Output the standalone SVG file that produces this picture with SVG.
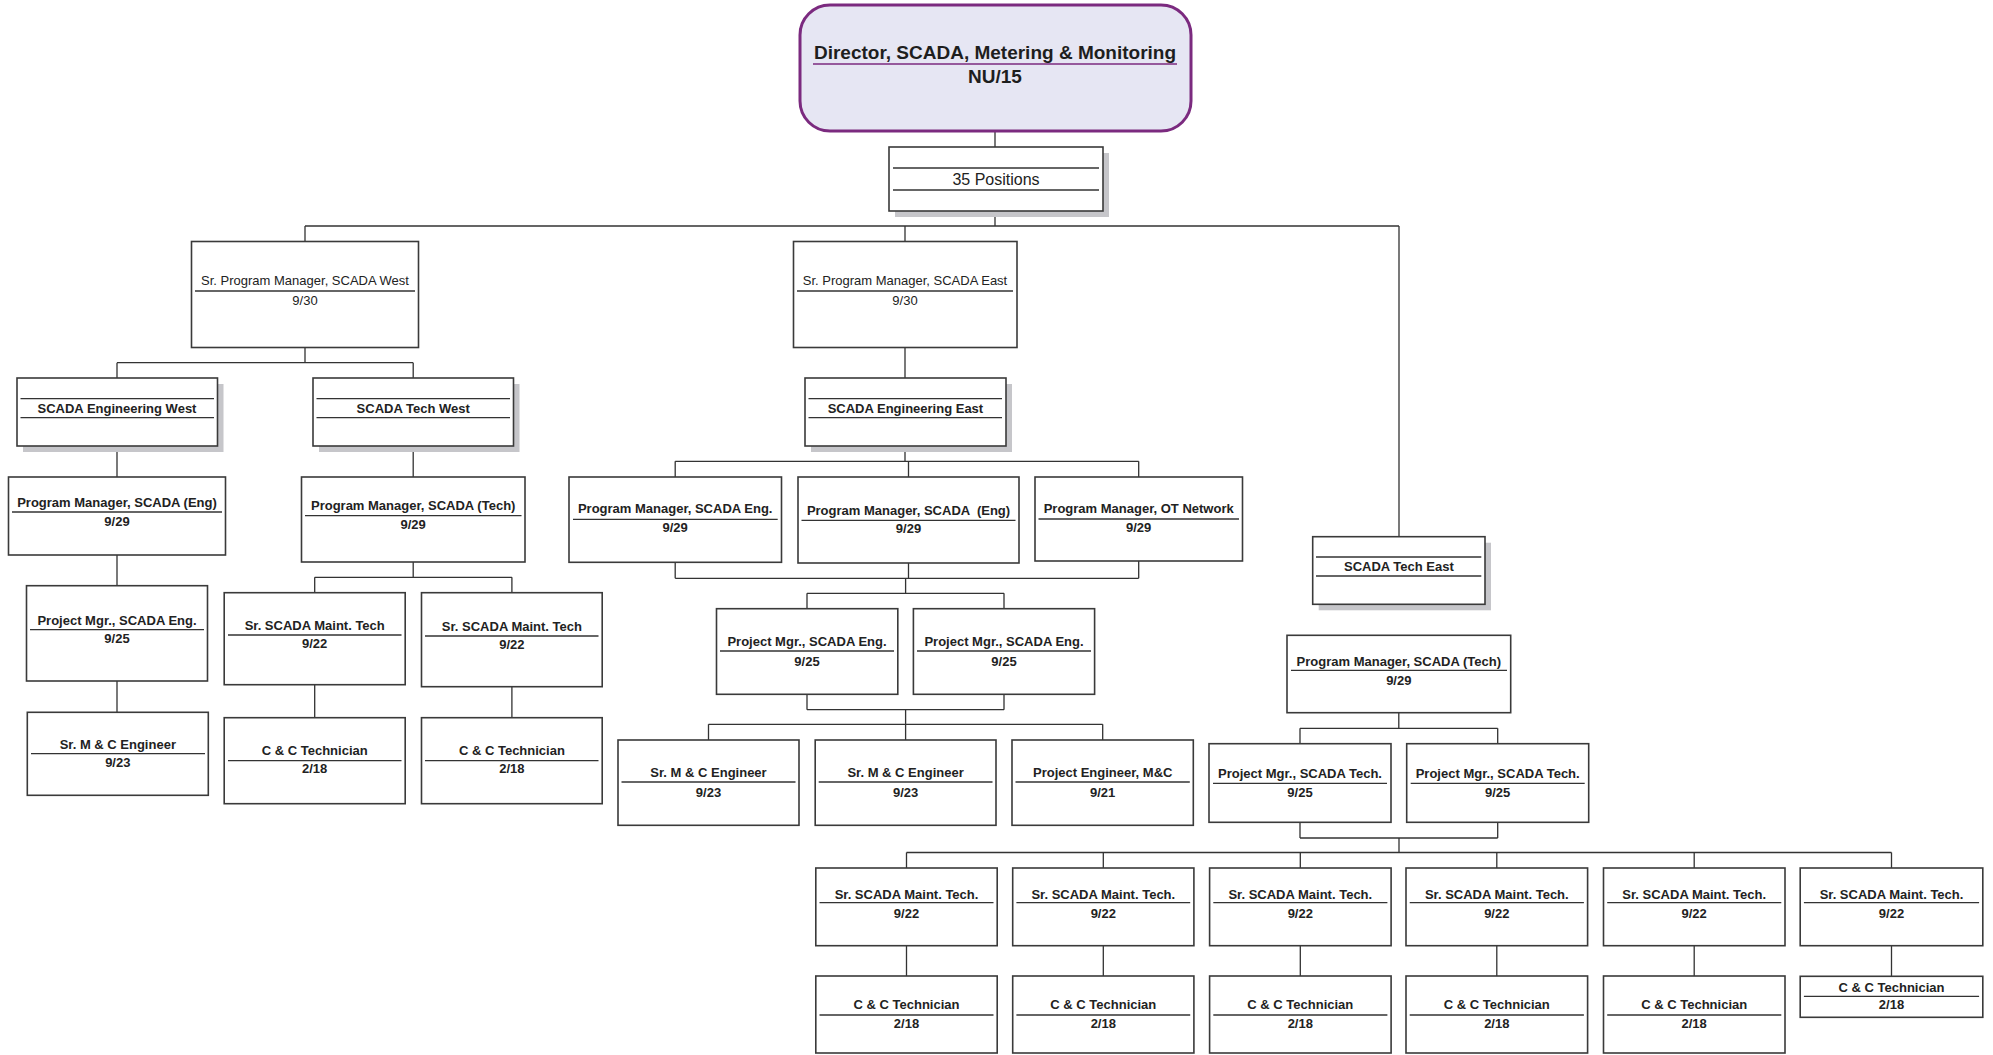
<svg xmlns="http://www.w3.org/2000/svg" width="1993" height="1055" viewBox="0 0 1993 1055">
  <style>
    .box { fill: #ffffff; stroke: #3a3a3a; stroke-width: 1.6; }
    .shadow { fill: #c6c6ca; stroke: none; }
    .rule { stroke: #333333; stroke-width: 1.3; }
    .wire { stroke: #333333; stroke-width: 1.3; fill: none; }
    .t { font-family: "Liberation Sans", Arial, sans-serif; font-size: 13px; text-anchor: middle; fill: #222222; }
    .b { font-weight: bold; }
    .big { font-size: 16px; }
    .dir { font-size: 19px; font-weight: bold; fill: #1e1e1e; }
  </style>

  <rect width="1993" height="1055" fill="#ffffff"/>

  <!-- reporting lines -->
  <g id="connectors">
    <path class="wire" d="M995,131 V147 M995,211 V226 M305,226 H1399 M305,226 V241.5 M905,226 V241.5 M1399,226 V536.7"/>
    <!-- west -->
    <path class="wire" d="M305,347.5 V362.7 M117,362.7 H413.2 M117,362.7 V378 M413.2,362.7 V378"/>
    <path class="wire" d="M117,446 V477 M413.2,446 V477 M117,555 V585.7 M117,681 V712.3"/>
    <path class="wire" d="M413.2,562 V577.3 M314.7,577.3 H511.9 M314.7,577.3 V592.7 M511.9,577.3 V592.7"/>
    <path class="wire" d="M314.7,684.7 V717.7 M511.9,686.7 V717.7"/>
    <!-- east engineering -->
    <path class="wire" d="M905,347.5 V378 M905,446 V461.3 M675.2,461.3 H1138.7 M675.2,461.3 V477 M908.5,461.3 V477 M1138.7,461.3 V477"/>
    <path class="wire" d="M675.2,562.3 V578.3 M908.5,563 V578.3 M1138.7,561 V578.3 M675.2,578.3 H1138.7 M905.6,578.3 V593.3 M807,593.3 H1004 M807,593.3 V608.7 M1004,593.3 V608.7"/>
    <path class="wire" d="M807,694.3 V709.7 M1004,694.3 V709.7 M807,709.7 H1004 M905.6,709.7 V724.3 M708.5,724.3 H1102.7 M708.5,724.3 V740 M905.6,724.3 V740 M1102.7,724.3 V740"/>
    <!-- east tech -->
    <path class="wire" d="M1398.8,712.7 V728.3 M1300,728.3 H1497.7 M1300,728.3 V743.7 M1497.7,728.3 V743.7"/>
    <path class="wire" d="M1300,822.3 V838 M1497.7,822.3 V838 M1300,838 H1497.7 M1399,838 V852.5 M906.5,852.5 H1891.5"/>
    <path class="wire" d="M906.5,852.5 V868 M1103.3,852.5 V868 M1300.3,852.5 V868 M1496.8,852.5 V868 M1694.2,852.5 V868 M1891.5,852.5 V868"/>
    <path class="wire" d="M906.5,945.7 V976 M1103.3,945.7 V976 M1300.3,945.7 V976 M1496.8,945.7 V976 M1694.2,945.7 V976 M1891.5,945.7 V976.3"/>
  </g>

  <!-- director -->
  <g id="director">
    <rect x="800" y="5" width="391" height="126" rx="30" ry="30" fill="#e6e6f3" stroke="#7b2a7f" stroke-width="3"/>
    <text class="t dir" x="995" y="59">Director, SCADA, Metering &amp; Monitoring</text>
    <line x1="813" y1="64" x2="1177" y2="64" stroke="#7b2a7f" stroke-width="1.3"/>
    <text class="t dir" x="995" y="83">NU/15</text>
  </g>

  <g id="positions">
    <rect class="shadow" x="895" y="153" width="214" height="64"/>
    <rect class="box" x="889" y="147" width="214" height="64"/>
    <line class="rule" x1="893" y1="168" x2="1099" y2="168"/>
    <line class="rule" x1="893" y1="190" x2="1099" y2="190"/>
    <text class="t big" x="996" y="185">35 Positions</text>
  </g>

  <g id="sr-pm-west">
    <rect class="box" x="191.5" y="241.5" width="227" height="106"/>
    <text class="t" x="305" y="285">Sr. Program Manager, SCADA West</text>
    <line class="rule" x1="195" y1="291" x2="415" y2="291"/>
    <text class="t" x="305" y="305">9/30</text>
  </g>

  <g id="sr-pm-east">
    <rect class="box" x="793.5" y="241.5" width="223.5" height="106"/>
    <text class="t" x="905" y="285">Sr. Program Manager, SCADA East</text>
    <line class="rule" x1="797" y1="291" x2="1013" y2="291"/>
    <text class="t" x="905" y="305">9/30</text>
  </g>

  <g id="scada-eng-west">
    <rect class="shadow" x="23" y="384" width="200.5" height="68"/>
    <rect class="box" x="17" y="378" width="200.5" height="68"/>
    <line class="rule" x1="20.5" y1="398.7" x2="214" y2="398.7"/>
    <line class="rule" x1="20.5" y1="417.7" x2="214" y2="417.7"/>
    <text class="t b" x="117" y="412.7">SCADA Engineering West</text>
  </g>

  <g id="scada-tech-west">
    <rect class="shadow" x="319" y="384" width="200.5" height="68"/>
    <rect class="box" x="313" y="378" width="200.5" height="68"/>
    <line class="rule" x1="316.5" y1="398.7" x2="510" y2="398.7"/>
    <line class="rule" x1="316.5" y1="417.7" x2="510" y2="417.7"/>
    <text class="t b" x="413.2" y="412.7">SCADA Tech West</text>
  </g>

  <g id="scada-eng-east">
    <rect class="shadow" x="811" y="384" width="201" height="68"/>
    <rect class="box" x="805" y="378" width="201" height="68"/>
    <line class="rule" x1="808.5" y1="398.7" x2="1002" y2="398.7"/>
    <line class="rule" x1="808.5" y1="417.7" x2="1002" y2="417.7"/>
    <text class="t b" x="905.4" y="412.7">SCADA Engineering East</text>
  </g>

  <g id="pm-scada-eng-west">
    <rect class="box" x="8.5" y="477" width="217" height="78"/>
    <text class="t b" x="117" y="506.7">Program Manager, SCADA (Eng)</text>
    <line class="rule" x1="12" y1="512" x2="222" y2="512"/>
    <text class="t b" x="117" y="526">9/29</text>
  </g>

  <g id="pm-scada-tech-west">
    <rect class="box" x="301.5" y="477" width="223.5" height="85"/>
    <text class="t b" x="413.2" y="510">Program Manager, SCADA (Tech)</text>
    <line class="rule" x1="305" y1="515.7" x2="521.5" y2="515.7"/>
    <text class="t b" x="413.2" y="529">9/29</text>
  </g>

  <g id="pm-scada-eng-east-1">
    <rect class="box" x="569" y="477" width="212.5" height="85.3"/>
    <text class="t b" x="675.2" y="513.3">Program Manager, SCADA Eng.</text>
    <line class="rule" x1="573" y1="519.3" x2="777.7" y2="519.3"/>
    <text class="t b" x="675.2" y="532.3">9/29</text>
  </g>

  <g id="pm-scada-eng-east-2">
    <rect class="box" x="798" y="477" width="221" height="86"/>
    <text class="t b" x="908.5" y="515" xml:space="preserve">Program Manager, SCADA  (Eng)</text>
    <line class="rule" x1="801.5" y1="520.3" x2="1015.5" y2="520.3"/>
    <text class="t b" x="908.5" y="533.3">9/29</text>
  </g>

  <g id="pm-ot-network">
    <rect class="box" x="1035" y="477" width="207.5" height="84"/>
    <text class="t b" x="1138.7" y="513.3">Program Manager, OT Network</text>
    <line class="rule" x1="1038.5" y1="519" x2="1239" y2="519"/>
    <text class="t b" x="1138.7" y="532.3">9/29</text>
  </g>

  <g id="scada-tech-east">
    <rect class="shadow" x="1318.7" y="542.7" width="172.3" height="67.6"/>
    <rect class="box" x="1312.7" y="536.7" width="172.3" height="67.6"/>
    <line class="rule" x1="1316" y1="557" x2="1481.3" y2="557"/>
    <line class="rule" x1="1316" y1="576" x2="1481.3" y2="576"/>
    <text class="t b" x="1398.9" y="571">SCADA Tech East</text>
  </g>

  <g id="proj-mgr-eng-west">
    <rect class="box" x="26.5" y="585.7" width="181" height="95.3"/>
    <text class="t b" x="117" y="625.3">Project Mgr., SCADA Eng.</text>
    <line class="rule" x1="30" y1="629.7" x2="204" y2="629.7"/>
    <text class="t b" x="117" y="643.3">9/25</text>
  </g>

  <g id="sr-maint-tech-west-1">
    <rect class="box" x="224.2" y="592.7" width="181" height="92"/>
    <text class="t b" x="314.7" y="630">Sr. SCADA Maint. Tech</text>
    <line class="rule" x1="228" y1="635" x2="401.5" y2="635"/>
    <text class="t b" x="314.7" y="648.3">9/22</text>
  </g>

  <g id="sr-maint-tech-west-2">
    <rect class="box" x="421.5" y="592.7" width="180.7" height="94"/>
    <text class="t b" x="511.9" y="631">Sr. SCADA Maint. Tech</text>
    <line class="rule" x1="425" y1="636" x2="598.5" y2="636"/>
    <text class="t b" x="511.9" y="649.3">9/22</text>
  </g>

  <g id="proj-mgr-eng-east-1">
    <rect class="box" x="716.5" y="608.7" width="181.3" height="85.6"/>
    <text class="t b" x="807" y="645.7">Project Mgr., SCADA Eng.</text>
    <line class="rule" x1="720" y1="651" x2="894" y2="651"/>
    <text class="t b" x="807" y="665.7">9/25</text>
  </g>

  <g id="proj-mgr-eng-east-2">
    <rect class="box" x="913.4" y="608.7" width="181.2" height="85.6"/>
    <text class="t b" x="1004" y="645.7">Project Mgr., SCADA Eng.</text>
    <line class="rule" x1="917" y1="651" x2="1091" y2="651"/>
    <text class="t b" x="1004" y="665.7">9/25</text>
  </g>

  <g id="pm-scada-tech-east">
    <rect class="box" x="1287" y="635.3" width="223.7" height="77.4"/>
    <text class="t b" x="1398.8" y="666">Program Manager, SCADA (Tech)</text>
    <line class="rule" x1="1291" y1="670.3" x2="1507" y2="670.3"/>
    <text class="t b" x="1398.8" y="685">9/29</text>
  </g>

  <g id="mc-engineer-west">
    <rect class="box" x="27.3" y="712.3" width="181" height="83"/>
    <text class="t b" x="117.8" y="749">Sr. M &amp; C Engineer</text>
    <line class="rule" x1="31" y1="753.7" x2="205" y2="753.7"/>
    <text class="t b" x="117.8" y="766.7">9/23</text>
  </g>

  <g id="cc-tech-west-1">
    <rect class="box" x="224.2" y="717.7" width="181" height="86"/>
    <text class="t b" x="314.7" y="755">C &amp; C Technician</text>
    <line class="rule" x1="228" y1="760.7" x2="401.5" y2="760.7"/>
    <text class="t b" x="314.7" y="773.3">2/18</text>
  </g>

  <g id="cc-tech-west-2">
    <rect class="box" x="421.5" y="717.7" width="180.7" height="86"/>
    <text class="t b" x="511.9" y="755">C &amp; C Technician</text>
    <line class="rule" x1="425" y1="760.7" x2="598.5" y2="760.7"/>
    <text class="t b" x="511.9" y="773.3">2/18</text>
  </g>

  <g id="mc-engineer-east-1">
    <rect class="box" x="618" y="740" width="181" height="85.3"/>
    <text class="t b" x="708.5" y="776.7">Sr. M &amp; C Engineer</text>
    <line class="rule" x1="621.5" y1="782" x2="795.5" y2="782"/>
    <text class="t b" x="708.5" y="796.7">9/23</text>
  </g>

  <g id="mc-engineer-east-2">
    <rect class="box" x="815.2" y="740" width="180.8" height="85.3"/>
    <text class="t b" x="905.6" y="776.7">Sr. M &amp; C Engineer</text>
    <line class="rule" x1="818.7" y1="782" x2="992.5" y2="782"/>
    <text class="t b" x="905.6" y="796.7">9/23</text>
  </g>

  <g id="project-engineer-mc">
    <rect class="box" x="1012" y="740" width="181.3" height="85.3"/>
    <text class="t b" x="1102.7" y="776.7">Project Engineer, M&amp;C</text>
    <line class="rule" x1="1015.5" y1="782" x2="1189.8" y2="782"/>
    <text class="t b" x="1102.7" y="796.7">9/21</text>
  </g>

  <g id="proj-mgr-tech-1">
    <rect class="box" x="1209" y="743.7" width="182" height="78.6"/>
    <text class="t b" x="1300" y="778.3">Project Mgr., SCADA Tech.</text>
    <line class="rule" x1="1213" y1="783.3" x2="1387" y2="783.3"/>
    <text class="t b" x="1300" y="796.7">9/25</text>
  </g>

  <g id="proj-mgr-tech-2">
    <rect class="box" x="1406.7" y="743.7" width="182" height="78.6"/>
    <text class="t b" x="1497.7" y="778.3">Project Mgr., SCADA Tech.</text>
    <line class="rule" x1="1410.7" y1="783.3" x2="1584.7" y2="783.3"/>
    <text class="t b" x="1497.7" y="796.7">9/25</text>
  </g>

  <!-- east maintenance technicians -->
  <g id="sr-maint-tech-east-1">
    <rect class="box" x="815.8" y="868" width="181.4" height="77.7"/>
    <text class="t b" x="906.5" y="898.7">Sr. SCADA Maint. Tech.</text>
    <line class="rule" x1="819.5" y1="902.7" x2="993.5" y2="902.7"/>
    <text class="t b" x="906.5" y="917.7">9/22</text>
  </g>
  <g id="sr-maint-tech-east-2">
    <rect class="box" x="1012.7" y="868" width="181.2" height="77.7"/>
    <text class="t b" x="1103.3" y="898.7">Sr. SCADA Maint. Tech.</text>
    <line class="rule" x1="1016.4" y1="902.7" x2="1190.2" y2="902.7"/>
    <text class="t b" x="1103.3" y="917.7">9/22</text>
  </g>
  <g id="sr-maint-tech-east-3">
    <rect class="box" x="1209.6" y="868" width="181.5" height="77.7"/>
    <text class="t b" x="1300.3" y="898.7">Sr. SCADA Maint. Tech.</text>
    <line class="rule" x1="1213.3" y1="902.7" x2="1387.4" y2="902.7"/>
    <text class="t b" x="1300.3" y="917.7">9/22</text>
  </g>
  <g id="sr-maint-tech-east-4">
    <rect class="box" x="1406" y="868" width="181.6" height="77.7"/>
    <text class="t b" x="1496.8" y="898.7">Sr. SCADA Maint. Tech.</text>
    <line class="rule" x1="1409.7" y1="902.7" x2="1583.9" y2="902.7"/>
    <text class="t b" x="1496.8" y="917.7">9/22</text>
  </g>
  <g id="sr-maint-tech-east-5">
    <rect class="box" x="1603.5" y="868" width="181.5" height="77.7"/>
    <text class="t b" x="1694.2" y="898.7">Sr. SCADA Maint. Tech.</text>
    <line class="rule" x1="1607.2" y1="902.7" x2="1781.3" y2="902.7"/>
    <text class="t b" x="1694.2" y="917.7">9/22</text>
  </g>
  <g id="sr-maint-tech-east-6">
    <rect class="box" x="1800.2" y="868" width="182.6" height="77.7"/>
    <text class="t b" x="1891.5" y="898.7">Sr. SCADA Maint. Tech.</text>
    <line class="rule" x1="1803.9" y1="902.7" x2="1979.1" y2="902.7"/>
    <text class="t b" x="1891.5" y="917.7">9/22</text>
  </g>

  <!-- east C & C technicians -->
  <g id="cc-tech-east-1">
    <rect class="box" x="815.8" y="976" width="181.4" height="77"/>
    <text class="t b" x="906.5" y="1009.3">C &amp; C Technician</text>
    <line class="rule" x1="819.5" y1="1015" x2="993.5" y2="1015"/>
    <text class="t b" x="906.5" y="1028.3">2/18</text>
  </g>
  <g id="cc-tech-east-2">
    <rect class="box" x="1012.7" y="976" width="181.2" height="77"/>
    <text class="t b" x="1103.3" y="1009.3">C &amp; C Technician</text>
    <line class="rule" x1="1016.4" y1="1015" x2="1190.2" y2="1015"/>
    <text class="t b" x="1103.3" y="1028.3">2/18</text>
  </g>
  <g id="cc-tech-east-3">
    <rect class="box" x="1209.6" y="976" width="181.5" height="77"/>
    <text class="t b" x="1300.3" y="1009.3">C &amp; C Technician</text>
    <line class="rule" x1="1213.3" y1="1015" x2="1387.4" y2="1015"/>
    <text class="t b" x="1300.3" y="1028.3">2/18</text>
  </g>
  <g id="cc-tech-east-4">
    <rect class="box" x="1406" y="976" width="181.6" height="77"/>
    <text class="t b" x="1496.8" y="1009.3">C &amp; C Technician</text>
    <line class="rule" x1="1409.7" y1="1015" x2="1583.9" y2="1015"/>
    <text class="t b" x="1496.8" y="1028.3">2/18</text>
  </g>
  <g id="cc-tech-east-5">
    <rect class="box" x="1603.5" y="976" width="181.5" height="77"/>
    <text class="t b" x="1694.2" y="1009.3">C &amp; C Technician</text>
    <line class="rule" x1="1607.2" y1="1015" x2="1781.3" y2="1015"/>
    <text class="t b" x="1694.2" y="1028.3">2/18</text>
  </g>
  <g id="cc-tech-east-6">
    <rect class="box" x="1800.2" y="976.3" width="182.6" height="41"/>
    <text class="t b" x="1891.5" y="991.7">C &amp; C Technician</text>
    <line class="rule" x1="1803.9" y1="996.3" x2="1979.1" y2="996.3"/>
    <text class="t b" x="1891.5" y="1009.3">2/18</text>
  </g>
</svg>
